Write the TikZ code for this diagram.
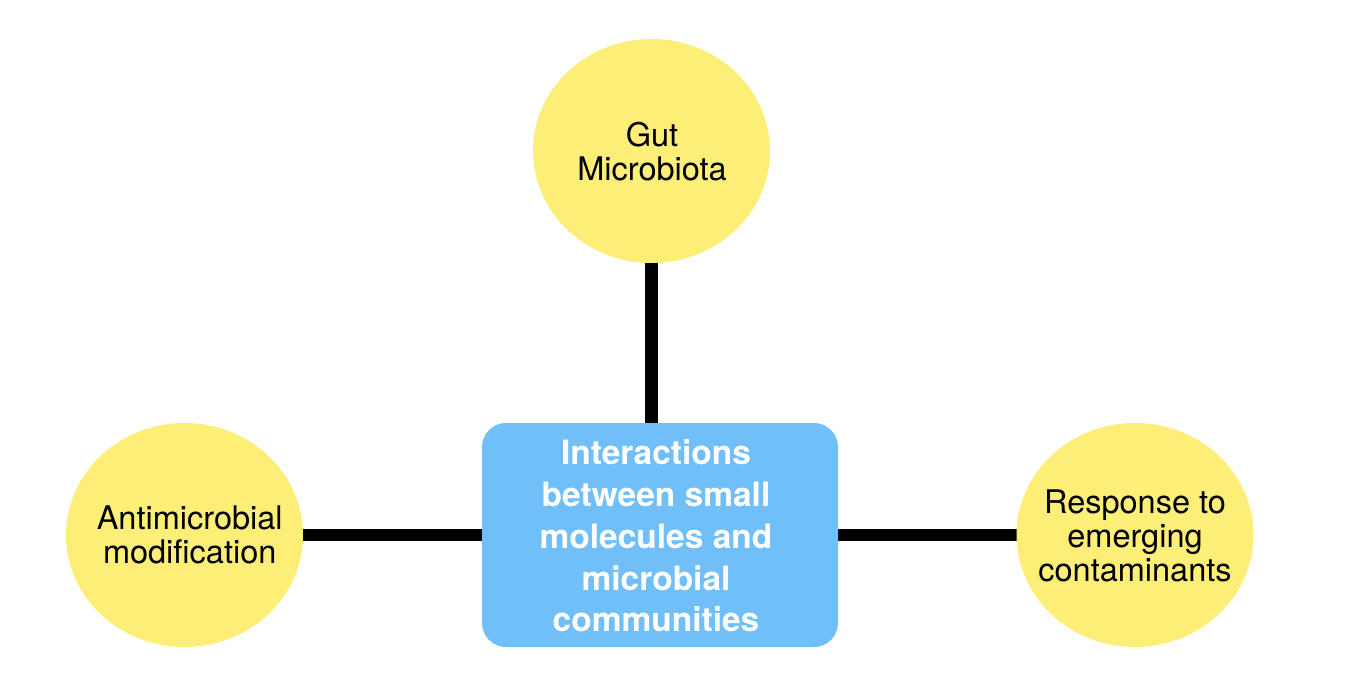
\documentclass[tikz,border=0pt]{standalone}
\usepackage{fontspec}
\setmainfont{TeX Gyre Heros}
\usetikzlibrary{shapes.geometric,backgrounds}
\definecolor{circfill}{RGB}{252,238,118}
\definecolor{boxfill}{RGB}{112,191,248}
\tikzset{
  topic/.style={ellipse, fill=circfill, minimum width=237pt, minimum height=224pt, inner sep=0pt},
  topictext/.style={align=center, font=\fontsize{32.5}{34}\selectfont, text=black, inner sep=0pt},
  hub/.style={rectangle, rounded corners=24pt, fill=boxfill, minimum width=356pt, minimum height=224pt,
    inner sep=0pt},
  hubtext/.style={align=center, font=\bfseries\fontsize{33.5}{41.7}\selectfont, text=white, inner sep=0pt},
  link/.style={line width=12.5pt, black}
}
\begin{document}
\begin{tikzpicture}[x=1pt,y=1pt]
\useasboundingbox (0,0) rectangle (1346,-700);
\node[hub] (hub) at (660,-535) {};
\node[hubtext] (hubtxt) at (656,-536) {Interactions\\between small\\molecules and\\microbial\\communities};
\node[topic] (gut) at (651.5,-151) {};
\node[topictext] (guttxt) at (652,-152) {Gut\\Microbiota};
\node[topic] (anti) at (184.5,-535) {};
\node[topictext] (antitxt) at (189.7,-535) {Antimicrobial\\modification};
\node[topic] (resp) at (1135,-535) {};
\node[topictext] (resptxt) at (1135,-536) {Response to\\emerging\\contaminants};
\begin{scope}[on background layer]
\draw[link] (gut.center) -- (gut.center |- hub.north);
\draw[link] (anti.center) -- (hub.center);
\draw[link] (hub.center) -- (resp.center);
\end{scope}
\end{tikzpicture}
\end{document}
